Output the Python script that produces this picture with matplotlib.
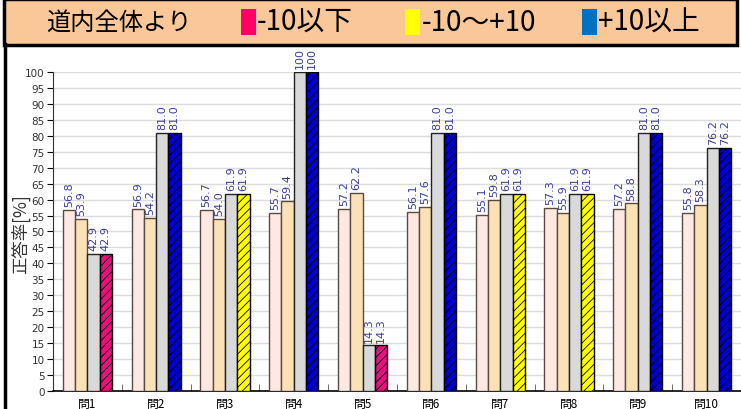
import numpy as np
import matplotlib.pyplot as plt
from matplotlib.patches import Rectangle
from matplotlib.lines import Line2D

plt.rcParams['font.family'] = ['Noto Sans CJK JP', 'DejaVu Sans']
plt.rcParams['hatch.linewidth'] = 0.6

questions = ['問1', '問2', '問3', '問4', '問5', '問6', '問7', '問8', '問9', '問10']
s1 = [56.8, 56.9, 56.7, 55.7, 57.2, 56.1, 55.1, 57.3, 57.2, 55.8]
s2 = [53.9, 54.2, 54.0, 59.4, 62.2, 57.6, 59.8, 55.9, 58.8, 58.3]
s3 = [42.9, 81.0, 61.9, 100, 14.3, 81.0, 61.9, 61.9, 81.0, 76.2]
s4 = [42.9, 81.0, 61.9, 100, 14.3, 81.0, 61.9, 61.9, 81.0, 76.2]
# 道内全体との差の区分: 0=-10以下, 1=-10~+10, 2=+10以上
level = [0, 2, 1, 2, 0, 2, 1, 1, 2, 2]

level_colors = ['#E8127F', '#FFFF00', '#0000CC']
legend_colors = ['#FF0066', '#FFFF00', '#0070C0']
legend_texts = ['-10以下', '-10〜+10', '+10以上']

fig = plt.figure(figsize=(7.41, 4.1), dpi=100)
ax = fig.add_axes([0.0715, 0.044, 0.9285, 0.778])

x = np.arange(len(questions))
w = 0.179
edge = '#5a4a42'
b1 = ax.bar(x - 1.5 * w, s1, w, color='#FDE9E1', edgecolor=edge, linewidth=1, zorder=3)
b2 = ax.bar(x - 0.5 * w, s2, w, color='#FBE2B6', edgecolor=edge, linewidth=1, zorder=3)
b3 = ax.bar(x + 0.5 * w, s3, w, color='#D9D9D9', edgecolor='#222222', linewidth=1, zorder=3)
b4 = ax.bar(x + 1.5 * w, s4, w, color=[level_colors[l] for l in level],
            edgecolor='black', linewidth=1, hatch='////', zorder=3)

for bars in [b1, b2, b3, b4]:
    for r in bars:
        v = r.get_height()
        lab = '100' if v >= 100 else f'{v:.1f}'
        ax.text(r.get_x() + r.get_width() / 2, v + 1.2, lab, rotation=90,
                ha='center', va='bottom', fontsize=8, color='#3C3C96',
                family='DejaVu Sans', clip_on=False, zorder=4)

ax.set_xlim(-0.5, 9.5)
ax.set_ylim(0, 100)
ax.set_yticks(np.arange(0, 101, 5))
ax.yaxis.grid(True, color='#DCDCDC', linewidth=1, zorder=0)
ax.set_axisbelow(True)
ax.set_xticks(x)
ax.set_xticklabels(questions, fontsize=8.5)
ax.tick_params(axis='x', length=0, pad=4)
ax.set_xticks(np.arange(0.5, 9, 1), minor=True)
ax.tick_params(axis='x', which='minor', direction='in', length=5, color='#555555')
ax.tick_params(axis='y', direction='out', length=4, labelsize=7.5, labelcolor='#333333', pad=2)
for lab in ax.get_yticklabels():
    lab.set_family('DejaVu Sans')
ax.spines['top'].set_visible(False)
ax.spines['right'].set_visible(False)
ax.spines['left'].set_color('#333333')
ax.spines['bottom'].set_color('black')
ax.spines['bottom'].set_linewidth(1.2)

fig.text(0.027, 0.43, '正答率[%]', rotation=90, ha='center', va='center', fontsize=12.5, color='#333333')

# header band
fig.patches.append(Rectangle((0.005, 0.888), 0.99, 0.112, transform=fig.transFigure,
                             facecolor='#FAC898', edgecolor='black', linewidth=2.5))
fig.lines.append(Line2D([0.007, 0.007], [0, 0.89], transform=fig.transFigure, color='black', linewidth=2.5))
fig.text(0.062, 0.944, '道内全体より', fontsize=17.5, va='center', ha='left')
sq_x = [0.325, 0.547, 0.785]
for sx, c, t in zip(sq_x, legend_colors, legend_texts):
    fig.patches.append(Rectangle((sx, 0.912), 0.02, 0.064, transform=fig.transFigure,
                                 facecolor=c, edgecolor='none'))
    fig.text(sx + 0.022, 0.944, t, fontsize=20, va='center', ha='left')

fig.savefig('out.png', dpi=100)
